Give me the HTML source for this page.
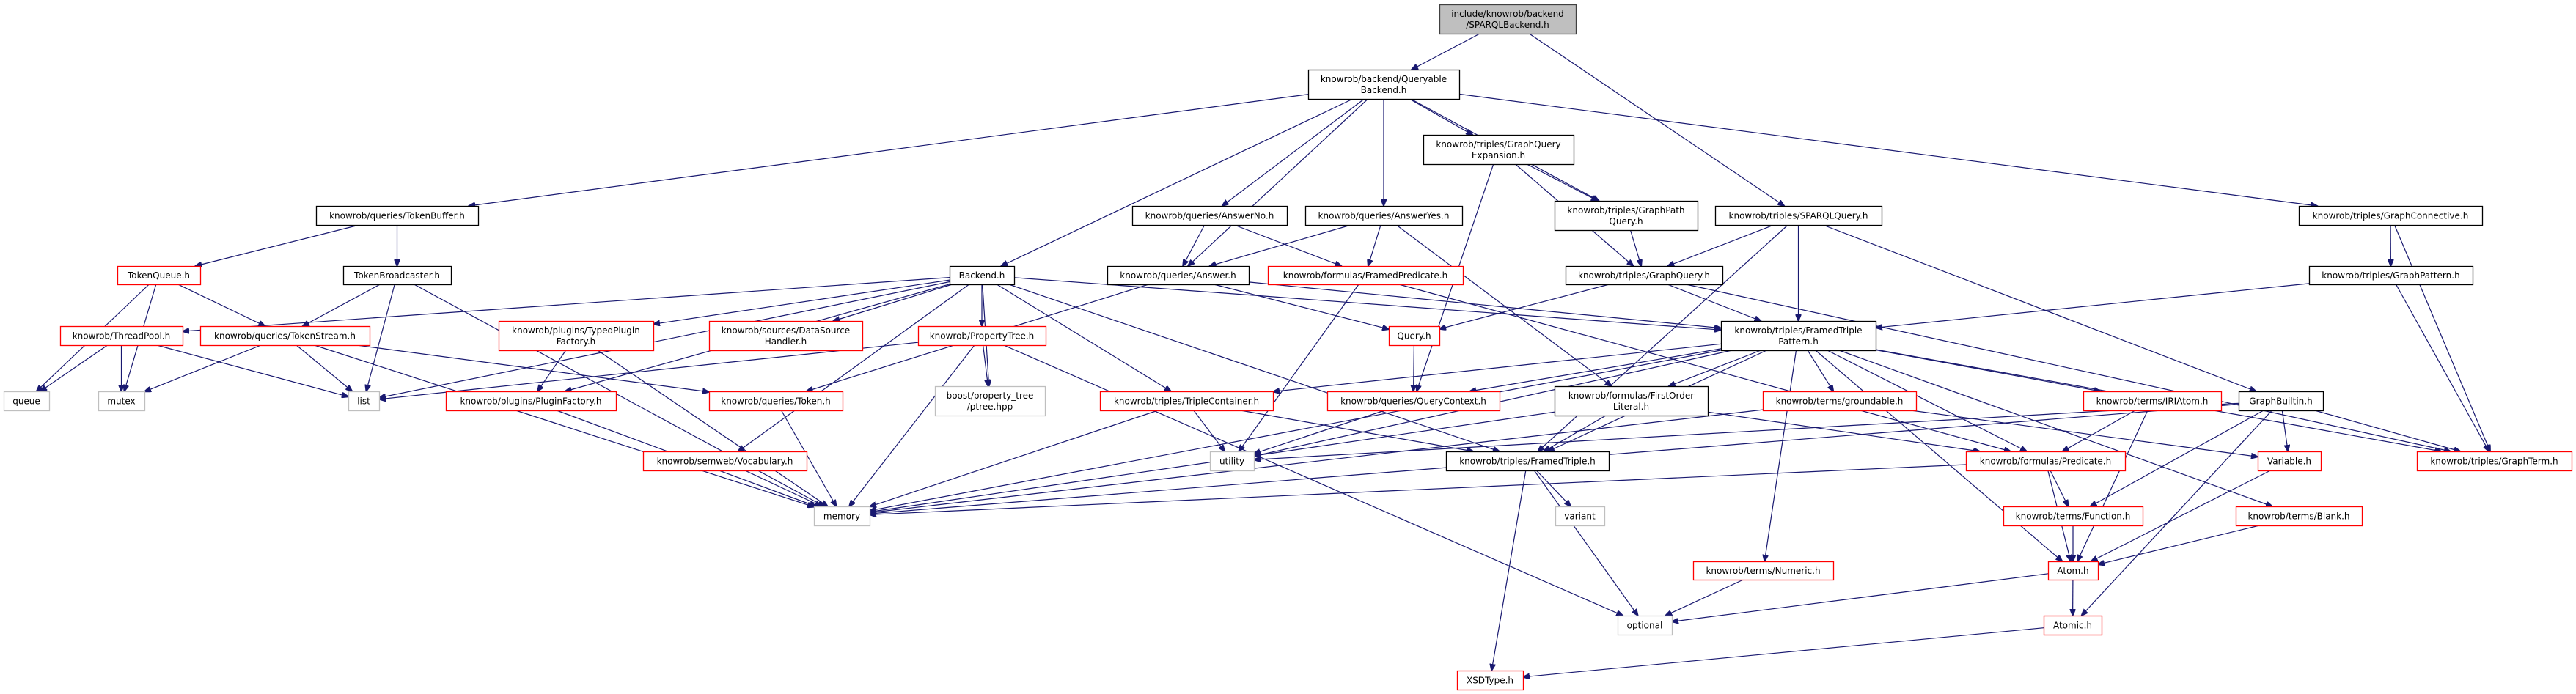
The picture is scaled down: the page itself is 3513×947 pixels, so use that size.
<!DOCTYPE html>
<html><head><meta charset="utf-8">
<style>
html,body{margin:0;padding:0;background:#fff;width:3513px;height:947px;overflow:hidden}
svg{display:block}
text{font-family:"DejaVu Sans","Liberation Sans",sans-serif;font-size:12px;fill:#000}
</style></head>
<body>
<svg id="g" width="3513" height="947" viewBox="0 0 3513 947" xmlns="http://www.w3.org/2000/svg">
<defs>
<marker id="ar" markerWidth="10" markerHeight="8" refX="9" refY="4" orient="auto" markerUnits="userSpaceOnUse">
<path d="M0,0 L10,4 L0,8 z" fill="#191970" stroke="#191970"/>
</marker>
</defs>
<g id="edges"></g>
<g id="nodes"></g>
</svg>
<script>
var N={
 top:[1963,6,2149,46,"include/knowrob/backend|/SPARQLBackend.h","top"],
 qb:[1784,95,1990,135,"knowrob/backend/Queryable|Backend.h","b"],
 gqe:[1941,184,2146,224,"knowrob/triples/GraphQuery|Expansion.h","b"],
 tb:[431,281,652,307,"knowrob/queries/TokenBuffer.h","b"],
 ano:[1544,281,1755,307,"knowrob/queries/AnswerNo.h","b"],
 ayes:[1780,281,1994,307,"knowrob/queries/AnswerYes.h","b"],
 gpq:[2120,274,2315,314,"knowrob/triples/GraphPath|Query.h","b"],
 sq:[2339,281,2566,307,"knowrob/triples/SPARQLQuery.h","b"],
 gc:[3135,281,3385,307,"knowrob/triples/GraphConnective.h","b"],
 tq:[160,363,273,388,"TokenQueue.h","r"],
 tbc:[468,363,615,388,"TokenBroadcaster.h","b"],
 be:[1295,363,1383,388,"Backend.h","b"],
 ans:[1510,363,1703,388,"knowrob/queries/Answer.h","b"],
 fp:[1729,363,1995,388,"knowrob/formulas/FramedPredicate.h","r"],
 gq:[2135,363,2349,388,"knowrob/triples/GraphQuery.h","b"],
 gp:[3149,363,3372,388,"knowrob/triples/GraphPattern.h","b"],
 tp:[82,445,249,471,"knowrob/ThreadPool.h","r"],
 ts:[273,445,504,471,"knowrob/queries/TokenStream.h","r"],
 tpf:[680,438,891,478,"knowrob/plugins/TypedPlugin|Factory.h","r"],
 dsh:[967,438,1176,478,"knowrob/sources/DataSource|Handler.h","r"],
 pt:[1252,445,1426,471,"knowrob/PropertyTree.h","r"],
 qh:[1894,445,1963,471,"Query.h","r"],
 ftp:[2347,438,2558,478,"knowrob/triples/FramedTriple|Pattern.h","b"],
 queue:[5,534,67,560,"queue","g"],
 mutex:[134,534,197,560,"mutex","g"],
 list:[475,534,517,560,"list","g"],
 pf:[608,534,840,560,"knowrob/plugins/PluginFactory.h","r"],
 tok:[967,534,1149,560,"knowrob/queries/Token.h","r"],
 ptree:[1275,527,1425,567,"boost/property_tree|/ptree.hpp","g"],
 tc:[1500,534,1736,560,"knowrob/triples/TripleContainer.h","r"],
 qc:[1810,534,2045,560,"knowrob/queries/QueryContext.h","r"],
 fol:[2120,527,2329,567,"knowrob/formulas/FirstOrder|Literal.h","b"],
 gr:[2404,534,2613,560,"knowrob/terms/groundable.h","r"],
 iri:[2841,534,3029,560,"knowrob/terms/IRIAtom.h","r"],
 gb:[3053,534,3168,560,"GraphBuiltin.h","b"],
 voc:[877,616,1100,642,"knowrob/semweb/Vocabulary.h","r"],
 util:[1650,616,1710,642,"utility","g"],
 ft:[1972,616,2194,642,"knowrob/triples/FramedTriple.h","b"],
 pred:[2681,616,2898,642,"knowrob/formulas/Predicate.h","r"],
 vari:[3079,616,3165,642,"Variable.h","r"],
 gt:[3296,616,3507,642,"knowrob/triples/GraphTerm.h","r"],
 mem:[1110,691,1186,717,"memory","g"],
 variant:[2121,691,2188,717,"variant","g"],
 fun:[2732,691,2922,717,"knowrob/terms/Function.h","r"],
 blank:[3049,691,3221,717,"knowrob/terms/Blank.h","r"],
 num:[2309,766,2500,791,"knowrob/terms/Numeric.h","r"],
 atom:[2793,766,2861,791,"Atom.h","r"],
 opt:[2206,840,2280,866,"optional","g"],
 atomic:[2787,840,2866,866,"Atomic.h","r"],
 xsd:[1987,915,2077,941,"XSDType.h","r"]
};
var E=[
["top","qb"],["top","sq"],
["qb","tb"],["qb","be"],["qb","ans"],["qb","ano"],["qb","ayes"],["qb","gqe"],["qb","gpq"],["qb","gc"],
["gqe","gpq"],["gqe","gq"],["gqe","qc"],
["tb","tq"],["tb","tbc"],
["tq","ts"],["tq","queue"],["tq","mutex"],
["tbc","ts"],["tbc","list"],["tbc","mem"],
["ano","ans"],["ano","fp"],
["ayes","ans"],["ayes","fp"],["ayes","fol"],
["sq","gq"],["sq","ftp"],["sq","ft"],["sq","gb"],
["gc","gp"],["gc","gt"],
["gpq","gq"],
["be","tp"],["be","tpf"],["be","dsh"],["be","pt"],["be","pf"],["be","voc"],["be","tc"],["be","ft"],["be","ftp"],["be","ptree"],["be","list"],
["ans","tok"],["ans","qh"],["ans","ftp"],
["fp","util"],["fp","pred"],
["gq","qh"],["gq","ftp"],["gq","gt"],
["gp","ftp"],["gp","gt"],
["tp","queue"],["tp","mutex"],["tp","list"],
["ts","mutex"],["ts","list"],["ts","mem"],["ts","tok"],
["tpf","pf"],["tpf","mem"],
["pt","ptree"],["pt","list"],["pt","mem"],["pt","opt"],
["qh","qc"],
["ftp","tc"],["ftp","qc"],["ftp","fol"],["ftp","gr"],["ftp","iri"],["ftp","pred"],["ftp","ft"],["ftp","gt"],["ftp","num"],["ftp","atom"],["ftp","util"],["ftp","mem"],["ftp","blank"],
["pf","mem"],["tok","mem"],["voc","mem"],
["tc","util"],["tc","mem"],["tc","ft"],
["qc","util"],
["fol","ft"],["fol","mem"],["fol","pred"],
["gr","mem"],["gr","vari"],
["iri","pred"],["iri","atom"],
["gb","util"],["gb","vari"],["gb","gt"],["gb","fun"],["gb","atomic"],["gb","mem"],
["ft","variant"],["ft","opt"],["ft","xsd"],
["pred","mem"],["pred","fun"],["pred","atom"],
["vari","atom"],["fun","atom"],["blank","atom"],
["num","opt"],["atom","opt"],["atom","atomic"],["atomic","xsd"]
];
var ns="http://www.w3.org/2000/svg";
var ge=document.getElementById("edges"),gn=document.getElementById("nodes");
function el(t,a,p){var e=document.createElementNS(ns,t);for(var k in a)e.setAttribute(k,a[k]);p.appendChild(e);return e;}
function clip(b,px,py,qx,qy){ // point where segment from center p toward q leaves box b
 var dx=qx-px,dy=qy-py,hw=(b[2]-b[0])/2,hh=(b[3]-b[1])/2;
 var t=Infinity;
 if(dx!=0)t=Math.min(t,hw/Math.abs(dx));
 if(dy!=0)t=Math.min(t,hh/Math.abs(dy));
 return [px+dx*t,py+dy*t];
}
E.forEach(function(e){
 var s=N[e[0]],t=N[e[1]];
 var scx=(s[0]+s[2])/2,scy=(s[1]+s[3])/2,tcx=(t[0]+t[2])/2,tcy=(t[1]+t[3])/2;
 var a=clip(s,scx,scy,tcx,tcy),b=clip(t,tcx,tcy,scx,scy);
 var mx=(a[0]+b[0])/2,my=(a[1]+b[1])/2;
 el("path",{d:"M"+a[0].toFixed(1)+","+a[1].toFixed(1)+" L"+b[0].toFixed(1)+","+b[1].toFixed(1),fill:"none",stroke:"#191970","stroke-width":"1.2","marker-end":"url(#ar)"},ge);
});
for(var k in N){
 var n=N[k],st=n[5];
 var fill=st=="top"?"#bfbfbf":"#fff";
 var stroke=st=="r"?"#ff0000":(st=="g"?"#bfbfbf":(st=="top"?"#404040":"#000"));
 el("rect",{x:n[0]+0.5,y:n[1]+0.5,width:n[2]-n[0],height:n[3]-n[1],fill:fill,stroke:stroke,"stroke-width":"1.3"},gn);
 var lines=n[4].split("|"),cx=(n[0]+n[2])/2,cy=(n[1]+n[3])/2;
 lines.forEach(function(l,i){
  var y=cy+(i-(lines.length-1)/2)*15+4.5;
  var tt=el("text",{x:cx,y:y,"text-anchor":"middle"},gn);tt.textContent=l;
 });
}
</script>
</body></html>
